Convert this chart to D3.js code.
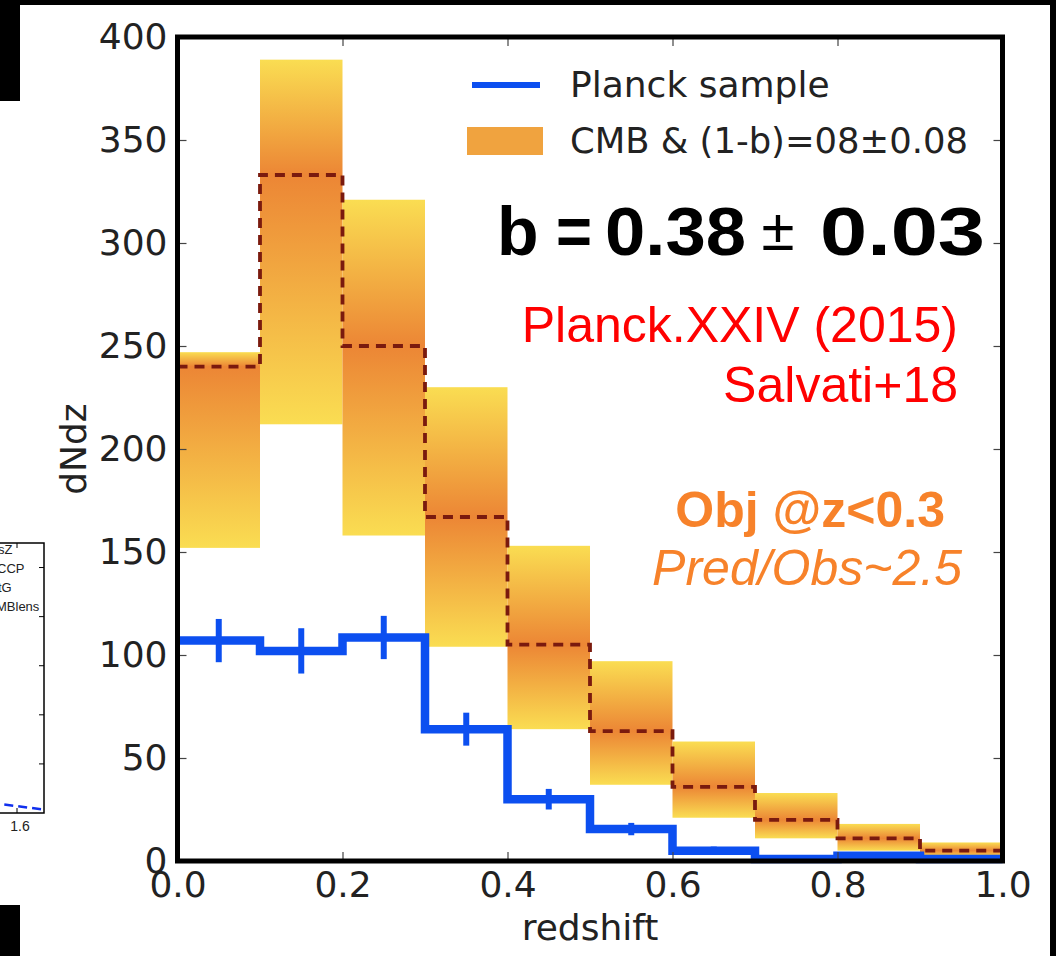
<!DOCTYPE html>
<html>
<head>
<meta charset="utf-8">
<script src="https://cdn.jsdelivr.net/npm/d3@7"></script>
<style>
  html, body { margin: 0; padding: 0; background: #fff; }
  svg { display: block; }
</style>
</head>
<body>
<svg id="chart" width="1056" height="956"></svg>
<script>
// Redshift bins (lower edges, width 0.1)
const binEdges = [0.0, 0.1, 0.2, 0.3, 0.4, 0.5, 0.6, 0.7, 0.8, 0.9];
const binWidth = 0.1;

// Predicted dN/dz band: CMB & (1-b)=0.8±0.08
const bandUpper  = [247, 389, 321, 230, 153, 97, 58, 33, 18, 9];
const bandLower  = [152, 212, 158, 104, 64, 37, 21, 11, 5, 2];
const bandMedian = [240, 333, 250, 167, 105, 63, 36, 20, 11, 5];

// Observed Planck sample with errors
const planckCounts = [107, 102, 108.5, 64, 30, 15.5, 5, 1, 2.5, 1];
const planckErrors = [10.5, 11, 10.5, 8, 5, 3, 2, 0.8, 0.8, 0.6];

// Axis ticks
const xTicks = [0.0, 0.2, 0.4, 0.6, 0.8, 1.0];
const yTicks = [0, 50, 100, 150, 200, 250, 300, 350, 400];

// Small neighbouring panel at the left edge
const sideLegend = ["sZ", "CCP", "tG", "MBlens"];
const sideCurveX = [1.45, 1.6, 1.7];
const sideCurveY = [0.24, 0.14, 0.07];
const sideYTicks = [1, 2, 3, 4, 5];
const sideXTicks = [1.6];

const svg = d3.select("#chart");
const W = 1056, H = 956;

svg.append("rect").attr("width", W).attr("height", H).attr("fill", "#fff");

const x = d3.scaleLinear().domain([0, 1]).range([177.5, 1002.5]);
const y = d3.scaleLinear().domain([0, 400]).range([861, 37]);

const BLUE = "#0c4ff0";
const YELLOW = "#fadd52";
const ORANGE = "#ec8635";

// ---- gradients for band cells (orange at the median, yellow at the edges)
const defs = svg.append("defs");
binEdges.forEach((b, i) => {
  const off = (bandUpper[i] - bandMedian[i]) / (bandUpper[i] - bandLower[i]);
  const g = defs.append("linearGradient")
    .attr("id", "band" + i)
    .attr("x1", 0).attr("y1", 0).attr("x2", 0).attr("y2", 1);
  g.append("stop").attr("offset", 0).attr("stop-color", YELLOW);
  g.append("stop").attr("offset", off).attr("stop-color", ORANGE);
  g.append("stop").attr("offset", 1).attr("stop-color", YELLOW);
});

const plot = svg.append("g");

// ---- band cells
plot.selectAll("rect.band")
  .data(binEdges)
  .join("rect")
  .attr("class", "band")
  .attr("x", d => x(d))
  .attr("width", d => x(d + binWidth) - x(d))
  .attr("y", (d, i) => y(bandUpper[i]))
  .attr("height", (d, i) => y(bandLower[i]) - y(bandUpper[i]))
  .attr("fill", (d, i) => `url(#band${i})`);

// ---- median as dashed step line
const stepPts = (vals) => {
  const pts = [];
  binEdges.forEach((b, i) => {
    pts.push([b, vals[i]]);
    pts.push([b + binWidth, vals[i]]);
  });
  return pts;
};
const lineGen = d3.line().x(d => x(d[0])).y(d => y(d[1]));

plot.append("path")
  .attr("d", lineGen(stepPts(bandMedian)))
  .attr("fill", "none")
  .attr("stroke", "#7a1a0e")
  .attr("stroke-width", 3.8)
  .attr("stroke-dasharray", "10,7");

// ---- Planck sample step line
plot.append("path")
  .attr("d", lineGen(stepPts(planckCounts)))
  .attr("fill", "none")
  .attr("stroke", BLUE)
  .attr("stroke-width", 8.5)
  .attr("stroke-linejoin", "miter");

// error bars at bin centres
plot.selectAll("line.err")
  .data(binEdges)
  .join("line")
  .attr("class", "err")
  .attr("x1", d => x(d + binWidth / 2))
  .attr("x2", d => x(d + binWidth / 2))
  .attr("y1", (d, i) => y(planckCounts[i] + planckErrors[i]))
  .attr("y2", (d, i) => y(planckCounts[i] - planckErrors[i]))
  .attr("stroke", BLUE)
  .attr("stroke-width", 6);

// ---- axes (inward ticks on all four sides)
const tickFont = "'DejaVu Sans', sans-serif";
const styleAxis = g => {
  g.select(".domain").remove();
  g.selectAll(".tick line").attr("stroke", "#444").attr("stroke-width", 1.2);
  g.selectAll(".tick text").attr("fill", "#222")
    .style("font-family", tickFont).style("font-size", "36px");
};

svg.append("g").attr("transform", `translate(0,${y(0)})`)
  .call(d3.axisBottom(x).tickValues(xTicks).tickFormat(d3.format(".1f")).tickSize(-9).tickPadding(10))
  .call(styleAxis);
svg.append("g").attr("transform", `translate(0,${y(400)})`)
  .call(d3.axisTop(x).tickValues(xTicks).tickFormat("").tickSize(-9))
  .call(styleAxis);
svg.append("g").attr("transform", `translate(${x(0)},0)`)
  .call(d3.axisLeft(y).tickValues(yTicks).tickFormat(d3.format("d")).tickSize(-9).tickPadding(10))
  .call(styleAxis);
svg.append("g").attr("transform", `translate(${x(1)},0)`)
  .call(d3.axisRight(y).tickValues(yTicks).tickFormat("").tickSize(-9))
  .call(styleAxis);

// frame
svg.append("rect")
  .attr("x", x(0)).attr("y", y(400))
  .attr("width", x(1) - x(0)).attr("height", y(0) - y(400))
  .attr("fill", "none").attr("stroke", "#000").attr("stroke-width", 5);

// axis titles
svg.append("text")
  .attr("x", (x(0) + x(1)) / 2).attr("y", 940)
  .attr("text-anchor", "middle")
  .style("font-family", tickFont).style("font-size", "36px").attr("fill", "#222")
  .text("redshift");
svg.append("text")
  .attr("transform", `translate(86,${(y(0) + y(400)) / 2}) rotate(-90)`)
  .attr("text-anchor", "middle")
  .style("font-family", tickFont).style("font-size", "36px").attr("fill", "#222")
  .text("dNdz");

// ---- legend
const leg = svg.append("g");
leg.append("line")
  .attr("x1", 472).attr("x2", 540).attr("y1", 85).attr("y2", 85)
  .attr("stroke", BLUE).attr("stroke-width", 6);
leg.append("rect")
  .attr("x", 467).attr("y", 127).attr("width", 76).attr("height", 28)
  .attr("fill", "#f0a33f");
leg.append("text").attr("x", 570).attr("y", 97)
  .style("font-family", tickFont).style("font-size", "36px").attr("fill", "#222")
  .text("Planck sample");
leg.append("text").attr("x", 570).attr("y", 153)
  .attr("textLength", 398).attr("lengthAdjust", "spacingAndGlyphs")
  .style("font-family", tickFont).style("font-size", "36px").attr("fill", "#222")
  .text("CMB & (1-b)=08±0.08");

// ---- annotations
const ann = "'Liberation Sans', Arial, Helvetica, sans-serif";
const bold68 = sel => sel.style("font-family", ann).style("font-size", "68px")
  .style("font-weight", "bold").attr("fill", "#000");
svg.append("text").attr("x", 497).attr("y", 255).call(bold68).text("b");
svg.append("text").attr("x", 556).attr("y", 255)
  .attr("textLength", 36).attr("lengthAdjust", "spacingAndGlyphs").call(bold68).text("=");
svg.append("text").attr("x", 605).attr("y", 255)
  .attr("textLength", 141).attr("lengthAdjust", "spacingAndGlyphs").call(bold68).text("0.38");
svg.append("text").attr("x", 778).attr("y", 250).attr("text-anchor", "middle")
  .style("font-family", ann).style("font-size", "60px")
  .attr("fill", "#000").text("±");
svg.append("text").attr("x", 820).attr("y", 255)
  .attr("textLength", 165).attr("lengthAdjust", "spacingAndGlyphs").call(bold68).text("0.03");

svg.append("text").attr("x", 958).attr("y", 342).attr("text-anchor", "end")
  .style("font-family", ann).style("font-size", "50px").attr("fill", "#ff0000")
  .text("Planck.XXIV (2015)");
svg.append("text").attr("x", 958).attr("y", 402).attr("text-anchor", "end")
  .style("font-family", ann).style("font-size", "50px").attr("fill", "#ff0000")
  .text("Salvati+18");

svg.append("text").attr("x", 945).attr("y", 527).attr("text-anchor", "end")
  .style("font-family", ann).style("font-size", "50px").style("font-weight", "bold")
  .attr("fill", "#f7822a").text("Obj @z<0.3");
svg.append("text").attr("x", 962).attr("y", 585).attr("text-anchor", "end")
  .style("font-family", ann).style("font-size", "50px").style("font-style", "italic")
  .attr("fill", "#f7822a").text("Pred/Obs~2.5");

// ---- neighbouring panel, cut by the left edge
const sx = d3.scaleLinear().domain([0, 1.7]).range([-415, 44]);
const sy = d3.scaleLinear().domain([0, 5.5]).range([813, 543]);
const side = svg.append("g");
side.append("path")
  .attr("d", d3.line().x(d => sx(d)).y((d, i) => sy(sideCurveY[i]))(sideCurveX))
  .attr("fill", "none").attr("stroke", "#1030ee").attr("stroke-width", 2.5)
  .attr("stroke-dasharray", "9,5");
side.append("rect")
  .attr("x", -10).attr("y", sy(5.5)).attr("width", sx(1.7) + 10).attr("height", sy(0) - sy(5.5))
  .attr("fill", "none").attr("stroke", "#000").attr("stroke-width", 1.5);
side.selectAll("line.syt").data(sideYTicks).join("line")
  .attr("x1", sx(1.7)).attr("x2", sx(1.7) - 5)
  .attr("y1", d => sy(d)).attr("y2", d => sy(d))
  .attr("stroke", "#000").attr("stroke-width", 1);
side.selectAll("line.sxt").data(sideXTicks).join("line")
  .attr("x1", d => sx(d)).attr("x2", d => sx(d))
  .attr("y1", sy(0)).attr("y2", sy(0) - 5)
  .attr("stroke", "#000").attr("stroke-width", 1);
side.selectAll("line.sxt2").data(sideXTicks).join("line")
  .attr("x1", d => sx(d)).attr("x2", d => sx(d))
  .attr("y1", sy(5.5)).attr("y2", sy(5.5) + 5)
  .attr("stroke", "#000").attr("stroke-width", 1);
side.selectAll("text.sxl").data(sideXTicks).join("text")
  .attr("x", d => sx(d) + 3).attr("y", sy(0) + 18).attr("text-anchor", "middle")
  .style("font-family", ann).style("font-size", "14px").attr("fill", "#222")
  .text(d => d.toFixed(1));
side.selectAll("text.sleg").data(sideLegend).join("text")
  .attr("x", (d, i) => [-2, -3, -2, -4][i]).attr("y", (d, i) => 554 + i * 19)
  .style("font-family", ann).style("font-size", "13px").attr("fill", "#222")
  .text(d => d);

// ---- dark page edges
svg.append("rect").attr("x", 0).attr("y", 0).attr("width", W).attr("height", 5).attr("fill", "#000");
svg.append("rect").attr("x", W - 6).attr("y", 0).attr("width", 6).attr("height", H).attr("fill", "#000");
svg.append("rect").attr("x", 0).attr("y", 0).attr("width", 20).attr("height", 101).attr("fill", "#000");
svg.append("rect").attr("x", 0).attr("y", 905).attr("width", 20).attr("height", 51).attr("fill", "#000");
</script>
</body>
</html>
